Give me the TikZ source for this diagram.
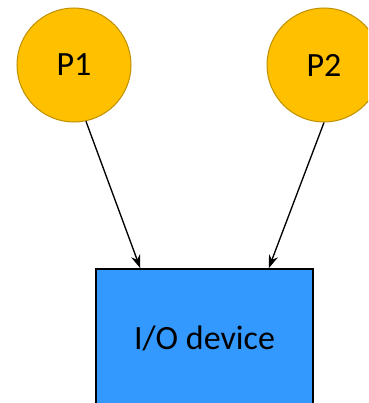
\documentclass[tikz,border=0pt]{standalone}
\usepackage{fontspec}
\setmainfont{Carlito}
\usetikzlibrary{arrows.meta, positioning}

\definecolor{procfill}{RGB}{255,192,0}
\definecolor{procline}{RGB}{191,144,0}
\definecolor{devfill}{RGB}{51,153,255}

\begin{document}
\begin{tikzpicture}[
    x=0.75pt, y=-0.75pt,
    proc/.style={circle, draw=procline, fill=procfill, line width=0.75pt, minimum size=85.5pt, inner sep=0pt, font=\fontsize{25.5}{30}\selectfont},
    device/.style={rectangle, draw=black, fill=devfill, line width=1.1pt, minimum width=162.75pt, minimum height=103.5pt, font=\fontsize{25.5}{30}\selectfont},
    arrow/.style={-{Stealth[length=10pt, width=7pt]}, line width=1pt}
]

\useasboundingbox (0,0) rectangle (368,403);
\clip (0,0) rectangle (368,403);

% Processes
\node[proc] (p1) at (74,65) {P1};
\node[proc] (p2) at (324,65) {P2};

% Device
\node[device] (io) at (204.5,338) {I/O device};

% Arrow ends on top of the device
\coordinate[right=33.75pt of io.north west] (in1);
\coordinate[left=33.75pt of io.north east] (in2);

% Arrows
\draw[arrow] (p1.-78) -- (in1);
\draw[arrow] (p2.south) -- (in2);

\end{tikzpicture}
\end{document}
